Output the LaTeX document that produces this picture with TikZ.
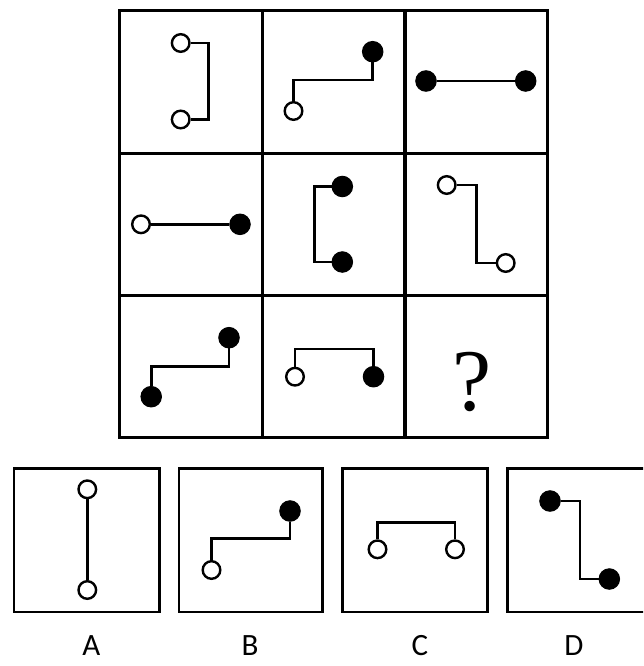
\documentclass[tikz,border=0pt]{standalone}
\usepackage{fontspec}
\newfontfamily\labfont{Carlito}
\newfontfamily\qfont{Liberation Serif}
\begin{document}
\begin{tikzpicture}[x=1pt,y=-1pt,
  frame/.style={line width=3.1pt,line cap=rect},
  optbox/.style={line width=2.7pt},
  wire/.style={line width=2.6pt},
  opendot/.style={circle,draw,line width=2.4pt,fill=white,minimum size=17.6pt,inner sep=0pt},
  filldot/.style={circle,draw,line width=1pt,fill=black,minimum size=20.5pt,inner sep=0pt},
  optlabel/.style={font=\labfont\fontsize{31}{31}\selectfont,anchor=base,inner sep=0pt}]
\clip (0,0) rectangle (643,666);
\fill[white] (0,0) rectangle (643,666);
% grid
\draw[frame] (119.3,10.7) rectangle (547.7,437.7);
\draw[frame] (262.3,10.7) -- (262.3,437.7) (405,10.7) -- (405,437.7)
  (119.3,153.3) -- (547.7,153.3) (119.3,295.7) -- (547.7,295.7);
% cell 1
\node[opendot] (c1a) at (180.7,43) {};
\node[opendot] (c1b) at (180.7,119.5) {};
\coordinate (c1k) at (208.3,80);
\draw[wire] (c1a) -| (c1k) |- (c1b);
% cell 2
\node[opendot] (c2a) at (293.5,111) {};
\node[filldot] (c2b) at (372.7,51.7) {};
\coordinate (c2k) at (330,80);
\draw[wire] (c2a) |- (c2k) -| (c2b);
% cell 3
\node[filldot] (c3a) at (426,81) {};
\node[filldot] (c3b) at (525.7,81) {};
\draw[wire] (c3a) -- (c3b);
% cell 4
\node[opendot] (c4a) at (141,224.3) {};
\node[filldot] (c4b) at (240,224.3) {};
\draw[wire] (c4a) -- (c4b);
% cell 5
\node[filldot] (c5a) at (342.3,186.5) {};
\node[filldot] (c5b) at (342.3,262) {};
\coordinate (c5k) at (314.3,224);
\draw[wire] (c5a) -| (c5k) |- (c5b);
% cell 6
\node[opendot] (c6a) at (446.7,185) {};
\node[opendot] (c6b) at (505.7,263) {};
\coordinate (c6k) at (476.7,224);
\draw[wire] (c6a) -| (c6k) |- (c6b);
% cell 7
\node[filldot] (c7a) at (151.2,396.7) {};
\node[filldot] (c7b) at (229,337.7) {};
\coordinate (c7k) at (190,366.7);
\draw[wire] (c7a) |- (c7k) -| (c7b);
% cell 8
\node[opendot] (c8a) at (295,376.7) {};
\node[filldot] (c8b) at (373.5,376.7) {};
\coordinate (c8k) at (334,349);
\draw[wire] (c8a) |- (c8k) -| (c8b);
% cell 9
\node[font=\qfont\fontsize{88}{88}\selectfont,inner sep=0pt] (q) at (472.5,381.7) {?};
% option boxes
\draw[optbox] (14,468.8) rectangle (159.3,612);
\draw[optbox] (179,468.8) rectangle (322.7,612);
\draw[optbox] (342.7,468.8) rectangle (487.7,612);
\draw[optbox] (507.3,468.8) rectangle (660,612);
% A
\node[opendot] (a1) at (87.3,489.3) {};
\node[opendot] (a2) at (87.3,590) {};
\draw[wire] (a1) -- (a2);
% B
\node[opendot] (b1) at (211.5,570) {};
\node[filldot] (b2) at (290,511) {};
\coordinate (bk) at (250,538.3);
\draw[wire] (b1) |- (bk) -| (b2);
% C
\node[opendot] (d1c) at (377.5,549.3) {};
\node[opendot] (d2c) at (455,549.3) {};
\coordinate (ck) at (416,522.3);
\draw[wire] (d1c) |- (ck) -| (d2c);
% D
\node[filldot] (dd1) at (550,501) {};
\node[filldot] (dd2) at (609.3,579) {};
\coordinate (dk) at (579.8,540);
\draw[wire] (dd1) -| (dk) |- (dd2);
% labels
\node[optlabel] (la) at (91.3,655.7) {A};
\node[optlabel] (lb) at (250,655.7) {B};
\node[optlabel] (lc) at (420,655.7) {C};
\node[optlabel] (ld) at (574,655.7) {D};
\end{tikzpicture}
\end{document}
